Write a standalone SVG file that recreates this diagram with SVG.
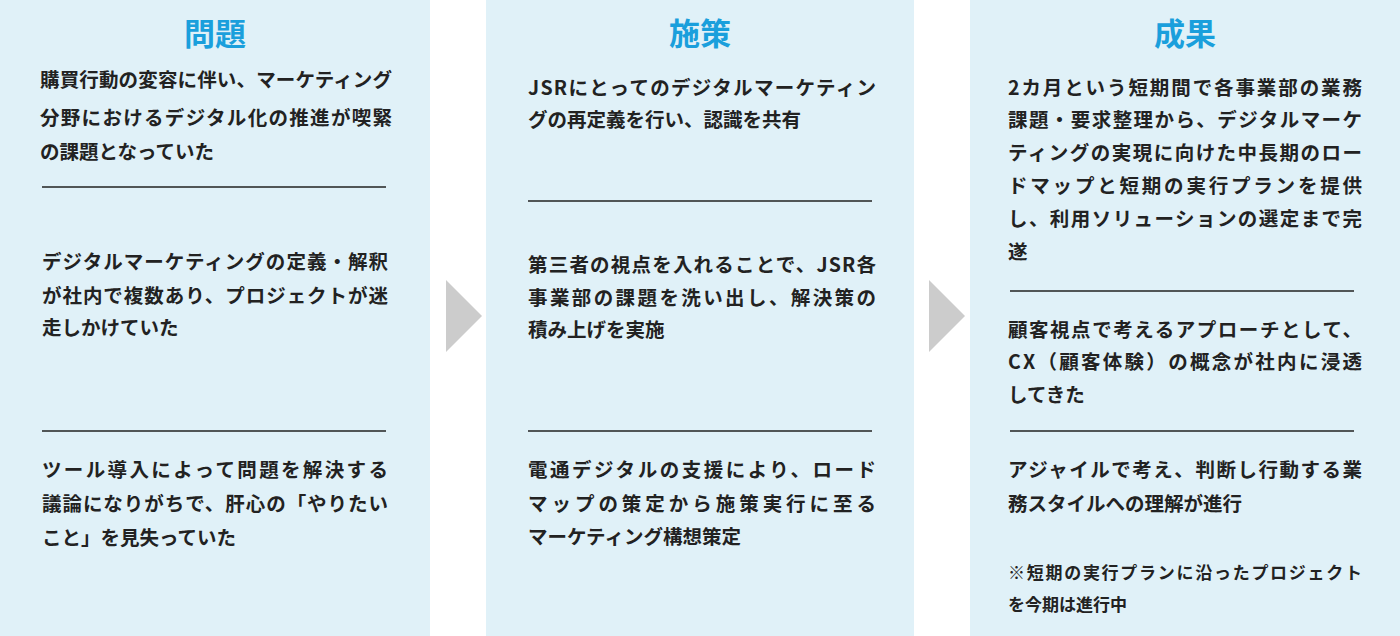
<svg xmlns="http://www.w3.org/2000/svg" width="1400" height="636" viewBox="0 0 1400 636">
<style>
.p{fill:#e0f1f8}
.h{font-family:"Noto Sans CJK JP","Noto Sans",sans-serif;font-size:31px;font-weight:bold;fill:#1a9fdc;text-anchor:middle}
.t{font-family:"Noto Sans CJK JP","Noto Sans",sans-serif;font-size:19.5px;font-weight:bold;fill:#222}
.s{font-size:17px}
.r{stroke:#222;stroke-width:1.5}
.a{fill:#cccccc}
</style>
<rect width="1400" height="636" fill="#fff"/>
<g id="problem">
<rect class="p" x="0" y="0" width="430" height="636"/>
<text class="h" x="215" y="45">問題</text>
<text class="t" x="40" y="87" textLength="352" lengthAdjust="spacing">購買行動の変容に伴い、マーケティング</text>
<text class="t" x="40" y="125" textLength="352" lengthAdjust="spacing">分野におけるデジタル化の推進が喫緊</text>
<text class="t" x="40" y="159">の課題となっていた</text>
<line class="r" x1="42" y1="187" x2="386" y2="187"/>
<text class="t" x="42" y="269" textLength="346" lengthAdjust="spacing">デジタルマーケティングの定義・解釈</text>
<text class="t" x="42" y="303" textLength="346" lengthAdjust="spacing">が社内で複数あり、プロジェクトが迷</text>
<text class="t" x="42" y="335">走しかけていた</text>
<line class="r" x1="42" y1="431" x2="386" y2="431"/>
<text class="t" x="42" y="477" textLength="346" lengthAdjust="spacing">ツール導入によって問題を解決する</text>
<text class="t" x="42" y="511" textLength="346" lengthAdjust="spacing">議論になりがちで、肝心の「やりたい</text>
<text class="t" x="42" y="545">こと」を見失っていた</text>
</g>
<g id="measures">
<rect class="p" x="486" y="0" width="428" height="636"/>
<text class="h" x="700" y="45">施策</text>
<text class="t" x="528" y="95" textLength="348" lengthAdjust="spacing">JSRにとってのデジタルマーケティン</text>
<text class="t" x="528" y="127">グの再定義を行い、認識を共有</text>
<line class="r" x1="528" y1="201" x2="872" y2="201"/>
<text class="t" x="528" y="272" textLength="348" lengthAdjust="spacing">第三者の視点を入れることで、JSR各</text>
<text class="t" x="528" y="305" textLength="348" lengthAdjust="spacing">事業部の課題を洗い出し、解決策の</text>
<text class="t" x="528" y="337">積み上げを実施</text>
<line class="r" x1="528" y1="431" x2="872" y2="431"/>
<text class="t" x="528" y="477" textLength="348" lengthAdjust="spacing">電通デジタルの支援により、ロード</text>
<text class="t" x="528" y="511" textLength="348" lengthAdjust="spacing">マップの策定から施策実行に至る</text>
<text class="t" x="528" y="544">マーケティング構想策定</text>
</g>
<g id="results">
<rect class="p" x="970" y="0" width="430" height="636"/>
<text class="h" x="1185" y="45">成果</text>
<text class="t" x="1008" y="95" textLength="354" lengthAdjust="spacing">2カ月という短期間で各事業部の業務</text>
<text class="t" x="1008" y="127" textLength="354" lengthAdjust="spacing">課題・要求整理から、デジタルマーケ</text>
<text class="t" x="1008" y="160" textLength="354" lengthAdjust="spacing">ティングの実現に向けた中長期のロー</text>
<text class="t" x="1008" y="193" textLength="354" lengthAdjust="spacing">ドマップと短期の実行プランを提供</text>
<text class="t" x="1008" y="226" textLength="354" lengthAdjust="spacing">し、利用ソリューションの選定まで完</text>
<text class="t" x="1008" y="259">遂</text>
<line class="r" x1="1010" y1="291" x2="1354" y2="291"/>
<text class="t" x="1008" y="337" textLength="354" lengthAdjust="spacing">顧客視点で考えるアプローチとして、</text>
<text class="t" x="1008" y="369" textLength="354" lengthAdjust="spacing">CX（顧客体験）の概念が社内に浸透</text>
<text class="t" x="1008" y="402">してきた</text>
<line class="r" x1="1010" y1="431" x2="1354" y2="431"/>
<text class="t" x="1008" y="477" textLength="354" lengthAdjust="spacing">アジャイルで考え、判断し行動する業</text>
<text class="t" x="1008" y="511">務スタイルへの理解が進行</text>
<text class="t s" x="1008" y="579" textLength="354" lengthAdjust="spacing">※短期の実行プランに沿ったプロジェクト</text>
<text class="t s" x="1008" y="611">を今期は進行中</text>
</g>
<g id="connectors">
<polygon class="a" points="446,280 482,316 446,352"/>
<polygon class="a" points="929,280 965,316 929,352"/>
</g>
</svg>
